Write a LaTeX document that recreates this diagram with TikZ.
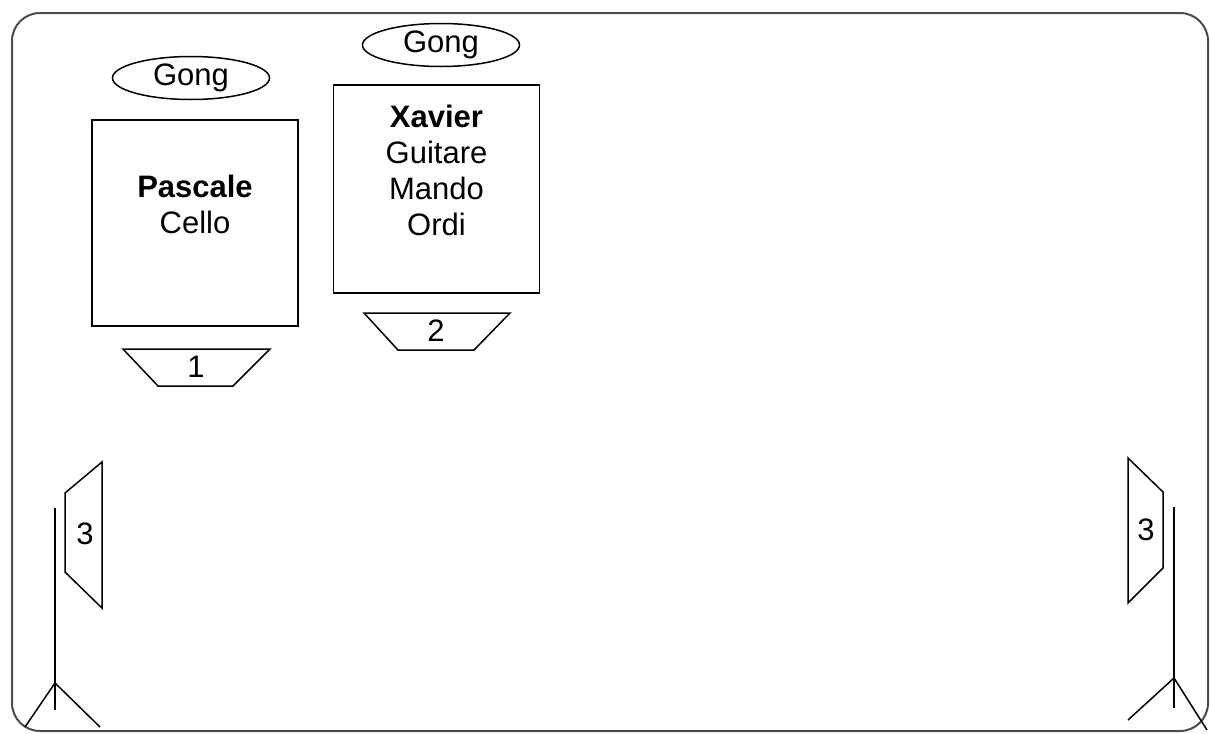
\documentclass[tikz,border=0pt]{standalone}
\usepackage{fontspec}
\setmainfont{Liberation Sans}
\usetikzlibrary{shapes.geometric}

\begin{document}
\begin{tikzpicture}[x=0.5pt,y=-0.5pt,
    every node/.style={font=\fontsize{15.5}{18}\selectfont},
    gong/.style={draw, ellipse, line width=0.75pt, minimum width=78.5pt, minimum height=21.5pt, inner sep=0pt},
    post/.style={draw, line width=0.75pt, minimum width=103pt, minimum height=103pt, inner sep=0pt},
    wedge/.style={draw, line width=0.75pt, line join=miter},
    stand/.style={line width=0.75pt}]
        \useasboundingbox (0,0) rectangle (1211,734);
        % Cadre de la scene
        \draw[black!70, line width=1pt, rounded corners=14pt] (12,13) rectangle (1208,731);

        % Pascale
        \node[gong] (gongA) at (191,78) {Gong};
        \node[post] (pascale) at (195,223) {};
        \node[align=center] (pascaleTxt) at (195,204) {\textbf{Pascale}\\Cello};
        % retour 1
        \draw[wedge] (123,349) -- (270,349) -- (233,386) -- (158,386) -- cycle;
        \node (retA) at (196,367) {1};

        % Xavier
        \node[gong] (gongB) at (441,45) {Gong};
        \node[post, minimum height=104pt] (xavier) at (436.5,189) {};
        \node[align=center] (xavierTxt) at (436.5,170.5) {\textbf{Xavier}\\Guitare\\Mando\\Ordi};
        % retour 2
        \draw[wedge] (364,313) -- (510,313) -- (474,350) -- (398,350) -- cycle;
        \node (retB) at (436,331) {2};

        % Facade gauche
        \draw[wedge] (102,462) -- (102,608) -- (65,572) -- (65,493) -- cycle;
        \node (hpA) at (85,534) {3};
        \draw[stand] (55,508) -- (55,710);
        \draw[stand] (25,727) -- (55,683) -- (100,727);

        % Facade droite
        \draw[wedge] (1128,458) -- (1128,603) -- (1163,568) -- (1163,492) -- cycle;
        \node (hpB) at (1146,530) {3};
        \draw[stand] (1174,507) -- (1174,708);
        \draw[stand] (1128,720) -- (1174,678) -- (1207,730);
    \end{tikzpicture}
\end{document}
